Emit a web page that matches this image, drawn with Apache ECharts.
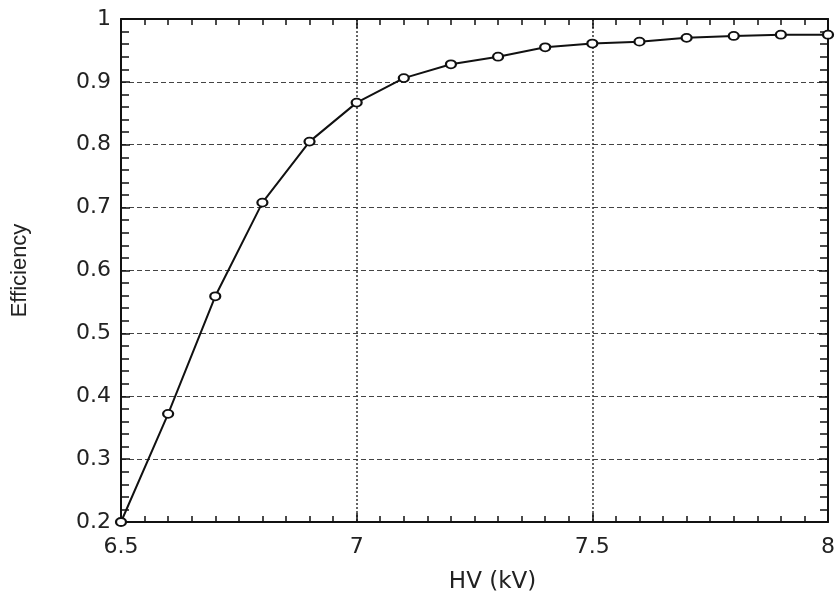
<!DOCTYPE html>
<html><head><meta charset="utf-8">
<script src="https://cdn.jsdelivr.net/npm/echarts@6/dist/echarts.min.js"></script>
<style>html,body{margin:0;padding:0;background:#fff}#c{width:838px;height:599px}</style>
</head><body><div id="c"></div>
<script>
const hv = [6.5, 6.6, 6.7, 6.8, 6.9, 7.0, 7.1, 7.2, 7.3, 7.4, 7.5, 7.6, 7.7, 7.8, 7.9, 8.0];
const efficiency = [0.20, 0.372, 0.559, 0.708, 0.805, 0.867, 0.906, 0.928, 0.940, 0.955, 0.961, 0.964, 0.970, 0.973, 0.975, 0.975];
const xTitle = 'HV (kV)';
const yTitle = 'Efficiency';

const font = 'DejaVu Sans, Liberation Sans, sans-serif';
const chart = echarts.init(document.getElementById('c'));
const axisLine = {show: true, onZero: false, lineStyle: {color: '#111', width: 2}};
const tick = {show: true, inside: true, length: 9, lineStyle: {color: '#111', width: 1.5}};
const minor = (n, len) => ({show: true, splitNumber: n, length: len, lineStyle: {color: '#111', width: 1.5}});
const splitH = {show: true, lineStyle: {color: '#444', type: [5, 3], width: 1}};
const splitV = {show: true, lineStyle: {color: '#333', type: [2, 2], width: 1.5}};
chart.setOption({
  animation: false,
  grid: {left: 121, right: 5, top: 19, bottom: 71, containLabel: false},
  xAxis: [
    {type: 'value', min: 6.5, max: 8, interval: 0.5, position: 'bottom',
     name: xTitle, nameLocation: 'middle', nameGap: 49,
     nameTextStyle: {color: '#222', fontSize: 23, fontFamily: font, padding: [0, 0, 0, 36]},
     axisLine: axisLine, axisTick: tick, minorTick: minor(10, 6), splitLine: splitV,
     axisLabel: {color: '#222', fontSize: 22, fontFamily: font, margin: 14}},
    {type: 'value', min: 6.5, max: 8, interval: 0.5, position: 'top',
     axisLine: axisLine, axisTick: tick, minorTick: minor(10, 6), splitLine: {show: false},
     axisLabel: {show: false}}
  ],
  yAxis: [
    {type: 'value', min: 0.2, max: 1, interval: 0.1, position: 'left',
     name: yTitle, nameLocation: 'middle', nameGap: 90, nameRotate: 90,
     nameTextStyle: {color: '#222', fontSize: 22, fontFamily: 'Liberation Sans, Arial, sans-serif'},
     axisLine: axisLine, axisTick: tick, minorTick: minor(5, 8), splitLine: splitH,
     axisLabel: {color: '#222', fontSize: 22, fontFamily: font, margin: 10,
       formatter: v => (Math.round(v * 10) / 10).toString()}},
    {type: 'value', min: 0.2, max: 1, interval: 0.1, position: 'right',
     axisLine: axisLine, axisTick: tick, minorTick: minor(5, 8), splitLine: {show: false},
     axisLabel: {show: false}}
  ],
  series: [{
    type: 'line',
    data: hv.map((x, i) => [x, efficiency[i]]),
    symbol: 'emptyCircle', symbolSize: [10, 8],
    lineStyle: {color: '#111', width: 2},
    itemStyle: {color: '#111', borderColor: '#111', borderWidth: 1.5},
    clip: false
  }]
});
</script></body></html>
